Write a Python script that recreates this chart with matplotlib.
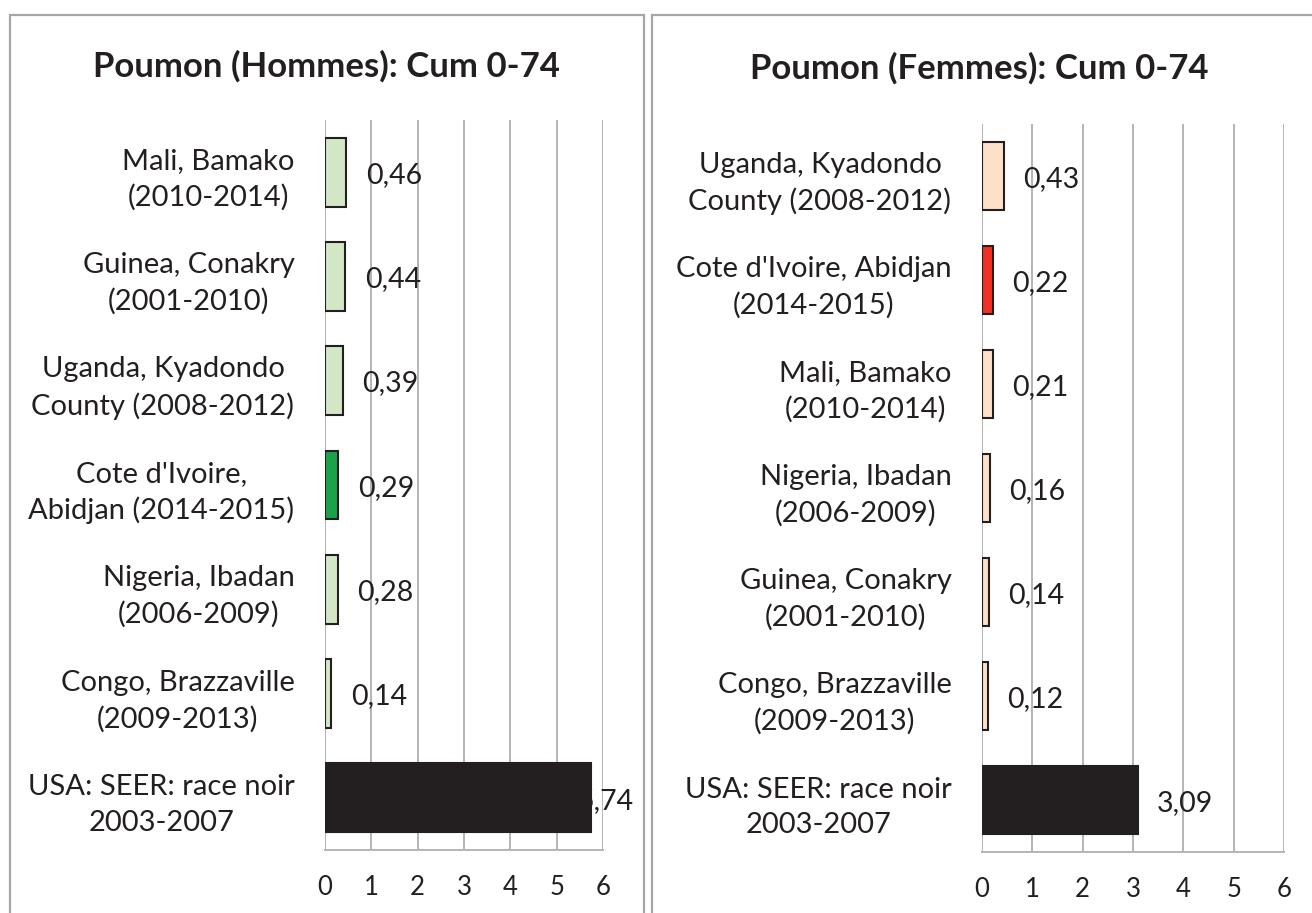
import matplotlib.pyplot as plt
import numpy as np
from matplotlib.patches import Rectangle

plt.rcParams['font.family'] = ['Lato', 'DejaVu Sans']

# Hommes (top to bottom)
cat_h = ["Mali, Bamako\n(2010-2014)", "Guinea, Conakry\n(2001-2010)",
         "Uganda, Kyadondo\nCounty (2008-2012)", "Cote d'Ivoire,\nAbidjan (2014-2015)",
         "Nigeria, Ibadan\n(2006-2009)", "Congo, Brazzaville\n(2009-2013)",
         "USA: SEER: race noir\n2003-2007"]
val_h = [0.46, 0.44, 0.39, 0.29, 0.28, 0.14, 5.74]
col_h = ['#d3e7c7', '#d3e7c7', '#d3e7c7', '#1aa34a', '#d3e7c7', '#d3e7c7', '#231f20']

# Femmes (top to bottom)
cat_f = ["Uganda, Kyadondo\nCounty (2008-2012)", "Cote d'Ivoire, Abidjan\n(2014-2015)",
         "Mali, Bamako\n(2010-2014)", "Nigeria, Ibadan\n(2006-2009)",
         "Guinea, Conakry\n(2001-2010)", "Congo, Brazzaville\n(2009-2013)",
         "USA: SEER: race noir\n2003-2007"]
val_f = [0.43, 0.22, 0.21, 0.16, 0.14, 0.12, 3.09]
col_f = ['#fde0c8', '#ee3124', '#fde0c8', '#fde0c8', '#fde0c8', '#fde0c8', '#231f20']

W, H = 1312, 913
fig = plt.figure(figsize=(W / 100, H / 100), dpi=100)

# panel frames
for x0, x1 in [(10, 644), (652, 1330)]:
    fig.patches.append(Rectangle((x0 / W, -0.1), (x1 - x0) / W, 1.1 - 15 / H,
                                 transform=fig.transFigure, fill=False,
                                 edgecolor='#a6a6a6', lw=1.6))

def panel(rect, cats, vals, cols, title, title_xy):
    ax = fig.add_axes(rect)
    y = np.arange(len(cats))
    ax.barh(y, vals, height=0.66, color=cols, edgecolor='#231f20', lw=1.5, zorder=3)
    ax.set_xlim(0, 6)
    ax.set_ylim(len(cats) - 0.5, -0.5)
    ax.set_xticks(range(7))
    ax.set_yticks(y)
    ax.set_yticklabels(cats, fontsize=21, color='#231f20', linespacing=1.45)
    for lab in ax.get_yticklabels():
        lab.set_multialignment('center')
    ax.tick_params(axis='y', length=0, pad=22)
    ax.tick_params(axis='x', length=0, pad=18, labelsize=18.5, labelcolor='#231f20')
    ax.grid(axis='x', color='#b4b4b4', lw=1.4, zorder=0.5)
    ax.set_axisbelow(True)
    for s in ['top', 'left', 'right']:
        ax.spines[s].set_visible(False)
    ax.spines['bottom'].set_color('#b4b4b4')
    ax.spines['bottom'].set_linewidth(1.4)
    for yi, v in zip(y, vals):
        off = -10 if v > 5 else 14
        ax.annotate(f"{v:.2f}".replace('.', ','), (v, yi), xytext=(off, -2),
                    textcoords='offset points', ha='left', va='center',
                    fontsize=20.5, color='#231f20', zorder=2, annotation_clip=False)
    fig.text(title_xy[0] / W, 1 - title_xy[1] / H, title, ha='center', va='center',
             fontsize=25, fontweight='bold', color='#231f20')
    return ax

panel([325 / W, 1 - 850 / H, 278 / W, 730 / H], cat_h, val_h, col_h,
      "Poumon (Hommes): Cum 0-74", (326, 66))
panel([982 / W, 1 - 852 / H, 302 / W, 728 / H], cat_f, val_f, col_f,
      "Poumon (Femmes): Cum 0-74", (979, 68))

fig.savefig('out.png', dpi=100)
